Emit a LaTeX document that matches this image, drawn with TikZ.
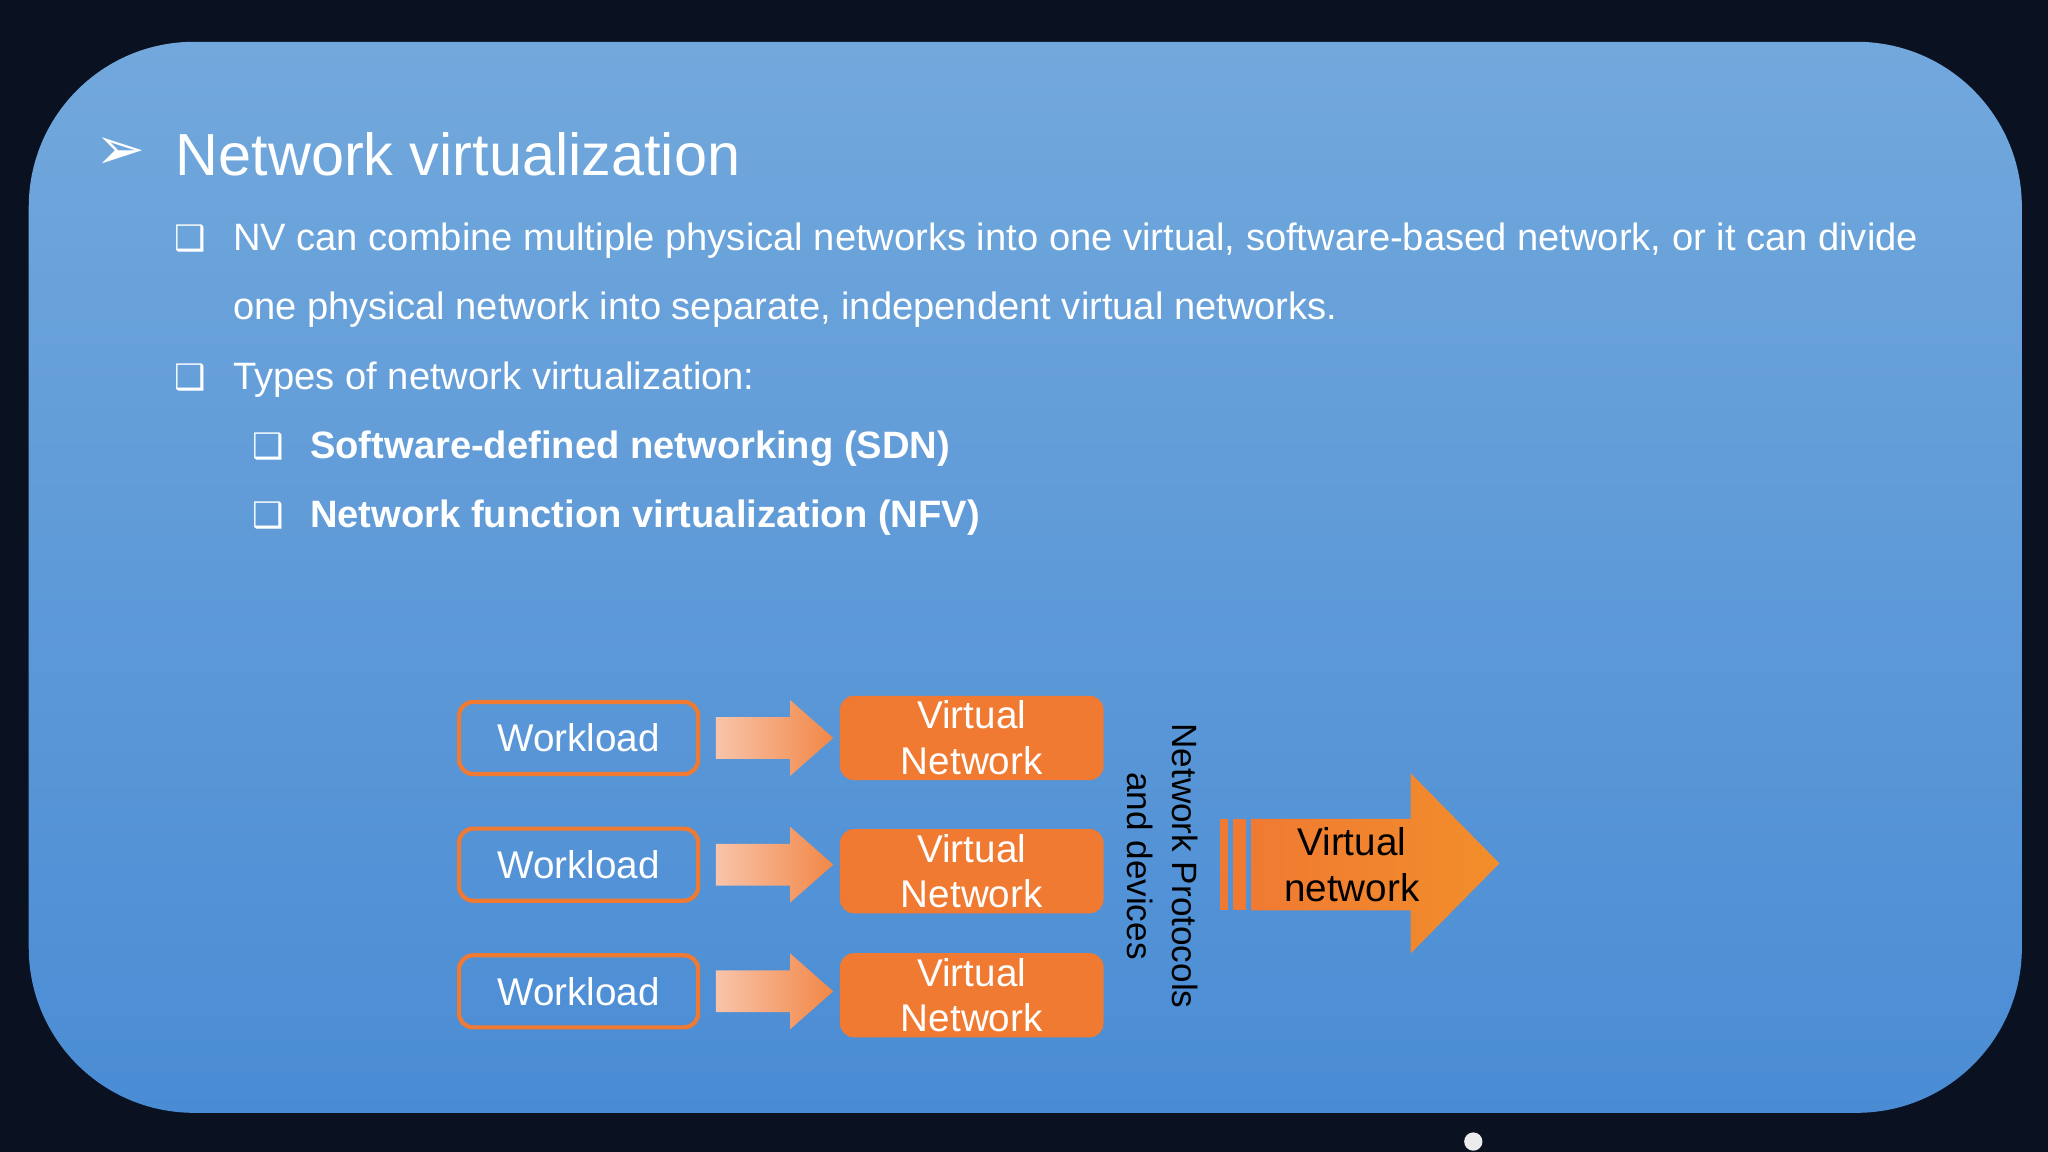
\documentclass[tikz,border=0pt]{standalone}
\usepackage{fontspec}
\setmainfont{Liberation Sans}
\newfontfamily\dvs{DejaVu Sans}
\definecolor{bgdark}{HTML}{0A1222}
\definecolor{paneltop}{HTML}{72A8DC}
\definecolor{panelbot}{HTML}{4A8CD4}
\definecolor{orng}{HTML}{F07A32}
\definecolor{orngl}{HTML}{F7B596}
\begin{document}
\begin{tikzpicture}[x=0.013061cm,y=-0.013061cm,
  vn/.style={fill=orng,rounded corners=4pt,text=white,align=center,font=\fontsize{11pt}{13pt}\selectfont},
  bl/.style={anchor=base west,text=white,inner sep=0pt,font=\fontsize{10.85pt}{13pt}\selectfont},
  bx/.style={anchor=base,text=white,font=\dvs\fontsize{10pt}{12pt}\selectfont}]
\useasboundingbox (0,0) rectangle (1568,882);
\fill[bgdark] (0,0) rectangle (1568,882);
\shade[top color=paneltop,bottom color=panelbot,rounded corners=47pt] (22,32) rectangle (1548,852);
\node[bx,font=\dvs\fontsize{17pt}{20pt}\selectfont] (ar) at (92,130) {➢};
\node[anchor=base west,inner sep=0pt,text=white,font=\fontsize{16.9pt}{20pt}\selectfont] (title) at (134,134) {Network virtualization};
\node[bx] (b1) at (146,192) {❑};
\node[bl] (t1) at (178,192) {NV can combine multiple physical networks into one virtual, software-based network, or it can divide};
\node[bl] (t1b) at (178,245) {one physical network into separate, independent virtual networks.};
\node[bx] (b2) at (146,298) {❑};
\node[bl] (t2) at (178,298) {Types of network virtualization:};
\node[bx] (b3) at (205,351) {❑};
\node[bl,font=\bfseries\fontsize{10.85pt}{13pt}\selectfont] (t3) at (237,351) {Software-defined networking (SDN)};
\node[bx] (b4) at (205,404) {❑};
\node[bl,font=\bfseries\fontsize{10.85pt}{13pt}\selectfont] (t4) at (237,404) {Network function virtualization (NFV)};
\foreach \i/\wy/\vy in {1/565/565,2/662/667,3/759/762}{
  \node[draw=orng,line width=1.2pt,rounded corners=4pt,minimum width=68pt,minimum height=20.5pt,text=white,font=\fontsize{11pt}{13pt}\selectfont] (w\i) at (443,\wy) {Workload};
  \node[vn,minimum width=75pt,minimum height=24pt,inner sep=1pt] (v\i) at (744,\vy) {Virtual\\Network};
  \shade[left color=orngl!80,right color=orng!90] (548,\wy-16) -- (605,\wy-16) -- (605,\wy-29) -- (638,\wy) -- (605,\wy+29) -- (605,\wy+16) -- (548,\wy+16) -- cycle;
}
\node[rotate=-90,align=center,font=\fontsize{10pt}{13pt}\selectfont] (np) at (890,663) {Network Protocols\\and devices};
\fill[orng] (934,627) rectangle (940,697);
\fill[orng] (944,627) rectangle (954,697);
\shade[left color=orng,right color=orng!85!yellow] (958,627) -- (1080,627) -- (1080,592) -- (1148,661) -- (1080,730) -- (1080,697) -- (958,697) -- cycle;
\node[align=center,font=\fontsize{11pt}{13pt}\selectfont] (vnet) at (1035,662) {Virtual\\network};
\fill[white!85!gray] (1128,874) circle (7);
\end{tikzpicture}
\end{document}
